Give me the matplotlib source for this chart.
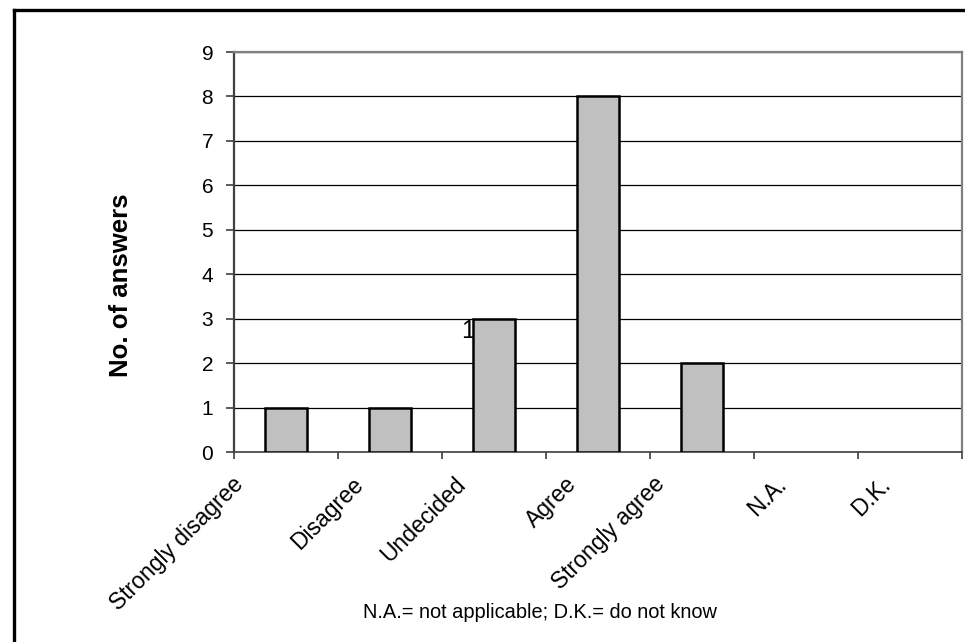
import matplotlib.pyplot as plt
import matplotlib.transforms as mtransforms
from matplotlib.lines import Line2D

categories = ['Strongly disagree', 'Disagree', 'Undecided', 'Agree',
              'Strongly agree', 'N.A.', 'D.K.']
answers = [1, 1, 3, 8, 2, 0, 0]
y_ticks = list(range(0, 10))
footnote = 'N.A.= not applicable; D.K.= do not know'


def plot_graph():
    plt.rcParams['font.family'] = ['Liberation Sans', 'DejaVu Sans']

    fig = plt.figure(figsize=(9.65, 6.42), dpi=100)
    ax = fig.add_axes([234 / 965, 1 - 452 / 642, 728 / 965, 400 / 642])

    x = list(range(len(categories)))
    # zero bars are invisible in the original
    edges = ['black' if v > 0 else 'none' for v in answers]
    ax.bar(x, answers, width=0.4, color='#c0c0c0', edgecolor=edges,
           linewidth=1.8, zorder=3)

    # stray label partly hidden behind the Undecided bar
    ax.text(1.68, 2.565, '1', fontsize=18, ha='left', va='baseline', zorder=2)

    ax.set_xlim(-0.5, len(categories) - 0.5)
    ax.set_ylim(0, 9)
    ax.set_yticks(y_ticks)
    ax.tick_params(axis='y', labelsize=15, length=6, width=1.2, pad=9,
                   direction='out', colors='#404040', labelcolor='black')

    # tick marks between categories, labels at centres
    ax.set_xticks([i - 0.5 for i in range(len(categories) + 1)])
    ax.set_xticklabels([])
    ax.tick_params(axis='x', which='major', length=5, width=1.2,
                   direction='out', colors='#404040')
    ax.set_xticks(x, minor=True)
    ax.set_xticklabels(categories, minor=True)
    ax.tick_params(axis='x', which='minor', length=0, pad=15, labelsize=16.5)
    for lab in ax.get_xticklabels(minor=True):
        # longer labels sit further left, as in the original layout
        dx = -(24 + 1.8 * len(lab.get_text())) / 100
        shift = mtransforms.ScaledTranslation(dx, 0, fig.dpi_scale_trans)
        lab.set_rotation(45)
        lab.set_rotation_mode('anchor')
        lab.set_ha('right')
        lab.set_va('top')
        lab.set_transform(lab.get_transform() + shift)

    ax.yaxis.grid(True, color='black', linewidth=0.9)
    ax.set_axisbelow(True)
    ax.spines['left'].set_color('#404040')
    ax.spines['left'].set_linewidth(1.6)
    ax.spines['bottom'].set_color('#404040')
    ax.spines['bottom'].set_linewidth(1.2)
    ax.spines['top'].set_color('#808080')
    ax.spines['top'].set_linewidth(1.6)
    ax.spines['right'].set_color('#808080')
    ax.spines['right'].set_linewidth(1.6)

    fig.text(121 / 965, 1 - 285 / 642, 'No. of answers', rotation=90,
             fontsize=18.5, fontweight='bold', ha='center', va='center')
    fig.text(540 / 965, 1 - 612 / 642, footnote, fontsize=14.4,
             ha='center', va='center')

    # outer chart border (left and top visible)
    fig.add_artist(Line2D([14 / 965, 14 / 965], [0, 1 - 10 / 642],
                          transform=fig.transFigure, color='black', linewidth=2.4))
    fig.add_artist(Line2D([14 / 965, 1], [1 - 10 / 642, 1 - 10 / 642],
                          transform=fig.transFigure, color='black', linewidth=2.4))

    fig.savefig('out.png', dpi=100)
    plt.close(fig)


if __name__ == '__main__':
    plot_graph()
